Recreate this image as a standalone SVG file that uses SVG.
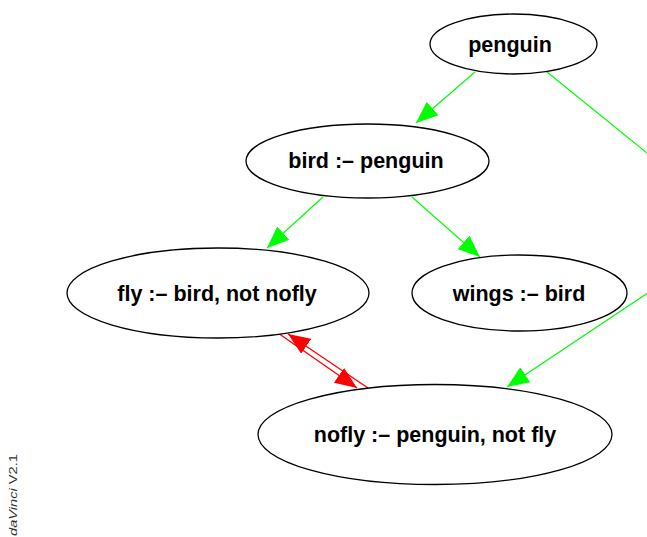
<svg xmlns="http://www.w3.org/2000/svg" width="647" height="537" viewBox="0 0 647 537">
  <style>
    .node ellipse { fill: #ffffff; stroke: #000000; stroke-width: 1.3; }
    .node text { font-family: "Liberation Sans", Arial, sans-serif; font-weight: bold; font-size: 21.5px; text-anchor: middle; fill: #000000; }
    .pos { stroke: #00ff00; stroke-width: 1.2; fill: none; }
    .neg { stroke: #ff0000; stroke-width: 1.3; fill: none; }
    .stamp { font-family: "Liberation Sans", Arial, sans-serif; font-size: 11px; fill: #333333; }
  </style>
  <defs>
    <marker id="ahGreen" markerUnits="userSpaceOnUse" markerWidth="23" markerHeight="18" refX="22" refY="9" orient="auto">
      <path d="M0,0 L22,9 L0,18 Z" fill="#00ff00"/>
    </marker>
    <marker id="ahRed" markerUnits="userSpaceOnUse" markerWidth="23" markerHeight="18" refX="22" refY="9" orient="auto">
      <path d="M0,0 L22,9 L0,18 Z" fill="#ff0000"/>
    </marker>
  </defs>

  <rect width="647" height="537" fill="#ffffff"/>

  <g id="connectors">
    <line class="pos" x1="475" y1="72" x2="416" y2="123" marker-end="url(#ahGreen)"/>
    <line class="pos" x1="323" y1="197" x2="267" y2="248" marker-end="url(#ahGreen)"/>
    <line class="pos" x1="412" y1="197" x2="480" y2="257" marker-end="url(#ahGreen)"/>
    <polyline class="pos" points="547,72 742,230 507,387" marker-end="url(#ahGreen)"/>
    <line class="neg" x1="278" y1="333" x2="357" y2="388" marker-end="url(#ahRed)"/>
    <line class="neg" x1="368" y1="388" x2="288" y2="334" marker-end="url(#ahRed)"/>
  </g>

  <g id="penguin" class="node">
    <ellipse cx="513.5" cy="44" rx="83.5" ry="30"/>
    <text x="510" y="52">penguin</text>
  </g>
  <g id="bird" class="node">
    <ellipse cx="367.5" cy="161" rx="121.5" ry="37"/>
    <text x="366" y="168">bird :– penguin</text>
  </g>
  <g id="fly" class="node">
    <ellipse cx="218" cy="293" rx="151" ry="45"/>
    <text x="217" y="301">fly :– bird, not nofly</text>
  </g>
  <g id="wings" class="node">
    <ellipse cx="519.5" cy="293" rx="107.5" ry="38"/>
    <text x="519" y="301">wings :– bird</text>
  </g>
  <g id="nofly" class="node">
    <ellipse cx="435" cy="434.5" rx="177" ry="50"/>
    <text x="435" y="442">nofly :– penguin, not fly</text>
  </g>

  <text class="stamp" transform="translate(17,536) rotate(-90)" textLength="82" lengthAdjust="spacingAndGlyphs"><tspan font-style="italic">daVinci</tspan> V2.1</text>
</svg>
